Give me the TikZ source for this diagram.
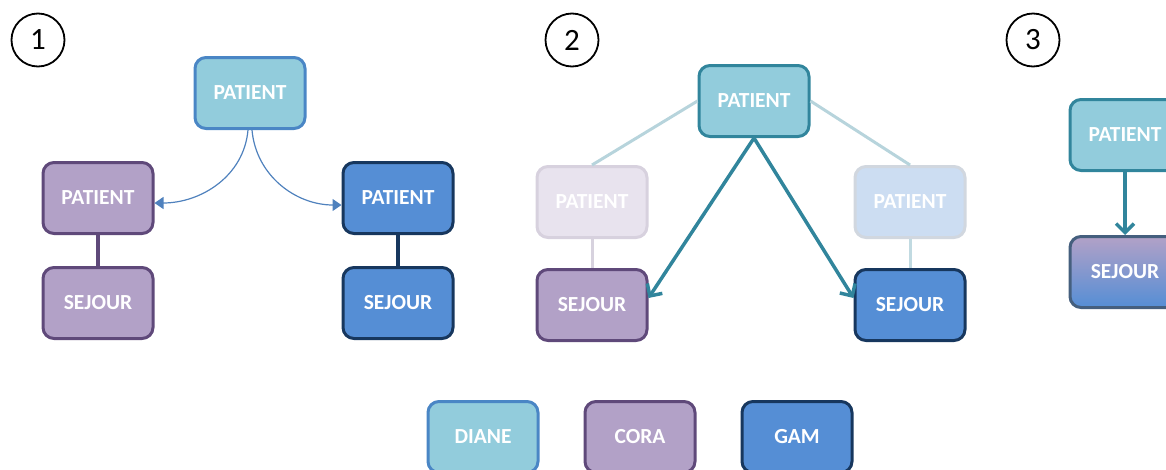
\documentclass[tikz,border=0pt]{standalone}
\usepackage{fontspec}
\setmainfont{Carlito}
\usepackage{xcolor}
\usetikzlibrary{arrows.meta}

\definecolor{dianeFill}{HTML}{92CCDC}
\definecolor{dianeBord}{HTML}{4A86C5}
\definecolor{coraFill}{HTML}{B2A1C7}
\definecolor{coraBord}{HTML}{5F497A}
\definecolor{gamFill}{HTML}{558ED5}
\definecolor{gamBord}{HTML}{17375E}
\definecolor{sarcelle}{HTML}{31859C}
\definecolor{lien}{HTML}{4F81BD}

\tikzset{
  entite/.style={rectangle, rounded corners=11pt, line width=3pt, minimum width=110pt, minimum height=71pt, text=white, font=\fontsize{21.5}{24}\selectfont\bfseries},
  diane/.style={entite, fill=dianeFill, draw=dianeBord},
  dianeT/.style={entite, fill=dianeFill, draw=sarcelle},
  cora/.style={entite, fill=coraFill, draw=coraBord},
  gam/.style={entite, fill=gamFill, draw=gamBord},
  coraPale/.style={entite, fill=coraFill!30, draw=coraBord!25},
  gamPale/.style={entite, fill=gamFill!30, draw=gamBord!20},
  numero/.style={circle, draw, line width=1.8pt, minimum size=53pt, inner sep=0pt, font=\fontsize{31}{31}\selectfont},
  fleche/.style={draw=sarcelle, line width=3.5pt, -{Straight Barb[length=9pt,width=18pt]}},
}

\begin{document}
\begin{tikzpicture}[x=1pt,y=-1pt]
\useasboundingbox (0,0) rectangle (1166,469);
\clip (0,0) rectangle (1166,469);

\node[numero] (n1) at (38,40) {1};
\node[diane] (d1) at (250,93) {PATIENT};
\node[cora] (c1p) at (98,198) {PATIENT};
\node[cora] (c1s) at (98,303) {SEJOUR};
\node[gam] (g1p) at (398,198) {PATIENT};
\node[gam] (g1s) at (398,303) {SEJOUR};
\draw[coraBord, line width=3.5pt] (c1p) -- (c1s);
\draw[gamBord, line width=3.5pt] (g1p) -- (g1s);
\draw[lien, line width=1.2pt, -{Triangle[length=9pt,width=12pt]}] ([xshift=-2pt]d1.south) to[out=-95, in=0] ([yshift=-5pt]c1p.east);
\draw[lien, line width=1.2pt, -{Triangle[length=9pt,width=12pt]}] ([xshift=2pt]d1.south) to[out=-85, in=180] ([yshift=-7pt]g1p.west);

\node[numero] (n2) at (572,40) {2};
\node[dianeT] (d2) at (754,101) {PATIENT};
\node[coraPale] (c2p) at (592,202) {PATIENT};
\node[cora] (c2s) at (592,305) {SEJOUR};
\node[gamPale] (g2p) at (910,202) {PATIENT};
\node[gam] (g2s) at (910,305) {SEJOUR};
\draw[sarcelle!35, line width=3pt] (d2.west) -- (c2p.north);
\draw[sarcelle!35, line width=3pt] (d2.east) -- (g2p.north);
\draw[coraBord!25, line width=3pt] (c2p) -- (c2s);
\draw[sarcelle!30, line width=3pt] (g2p) -- (g2s);
\draw[fleche] (d2.south) -- ([yshift=7pt]c2s.east);
\draw[fleche] (d2.south) -- ([yshift=7pt]g2s.west);

\node[numero] (n3) at (1033,40) {3};
\node[dianeT] (d3) at (1125,135) {PATIENT};
\node[entite, top color=coraFill, middle color=coraFill, bottom color=gamFill, draw=gamBord!80] (m3) at (1125,272) {SEJOUR};
\draw[fleche] (d3) -- (m3);

\node[diane] (l1) at (483,437) {DIANE};
\node[cora] (l2) at (640,437) {CORA};
\node[gam] (l3) at (797,437) {GAM};
\end{tikzpicture}
\end{document}
